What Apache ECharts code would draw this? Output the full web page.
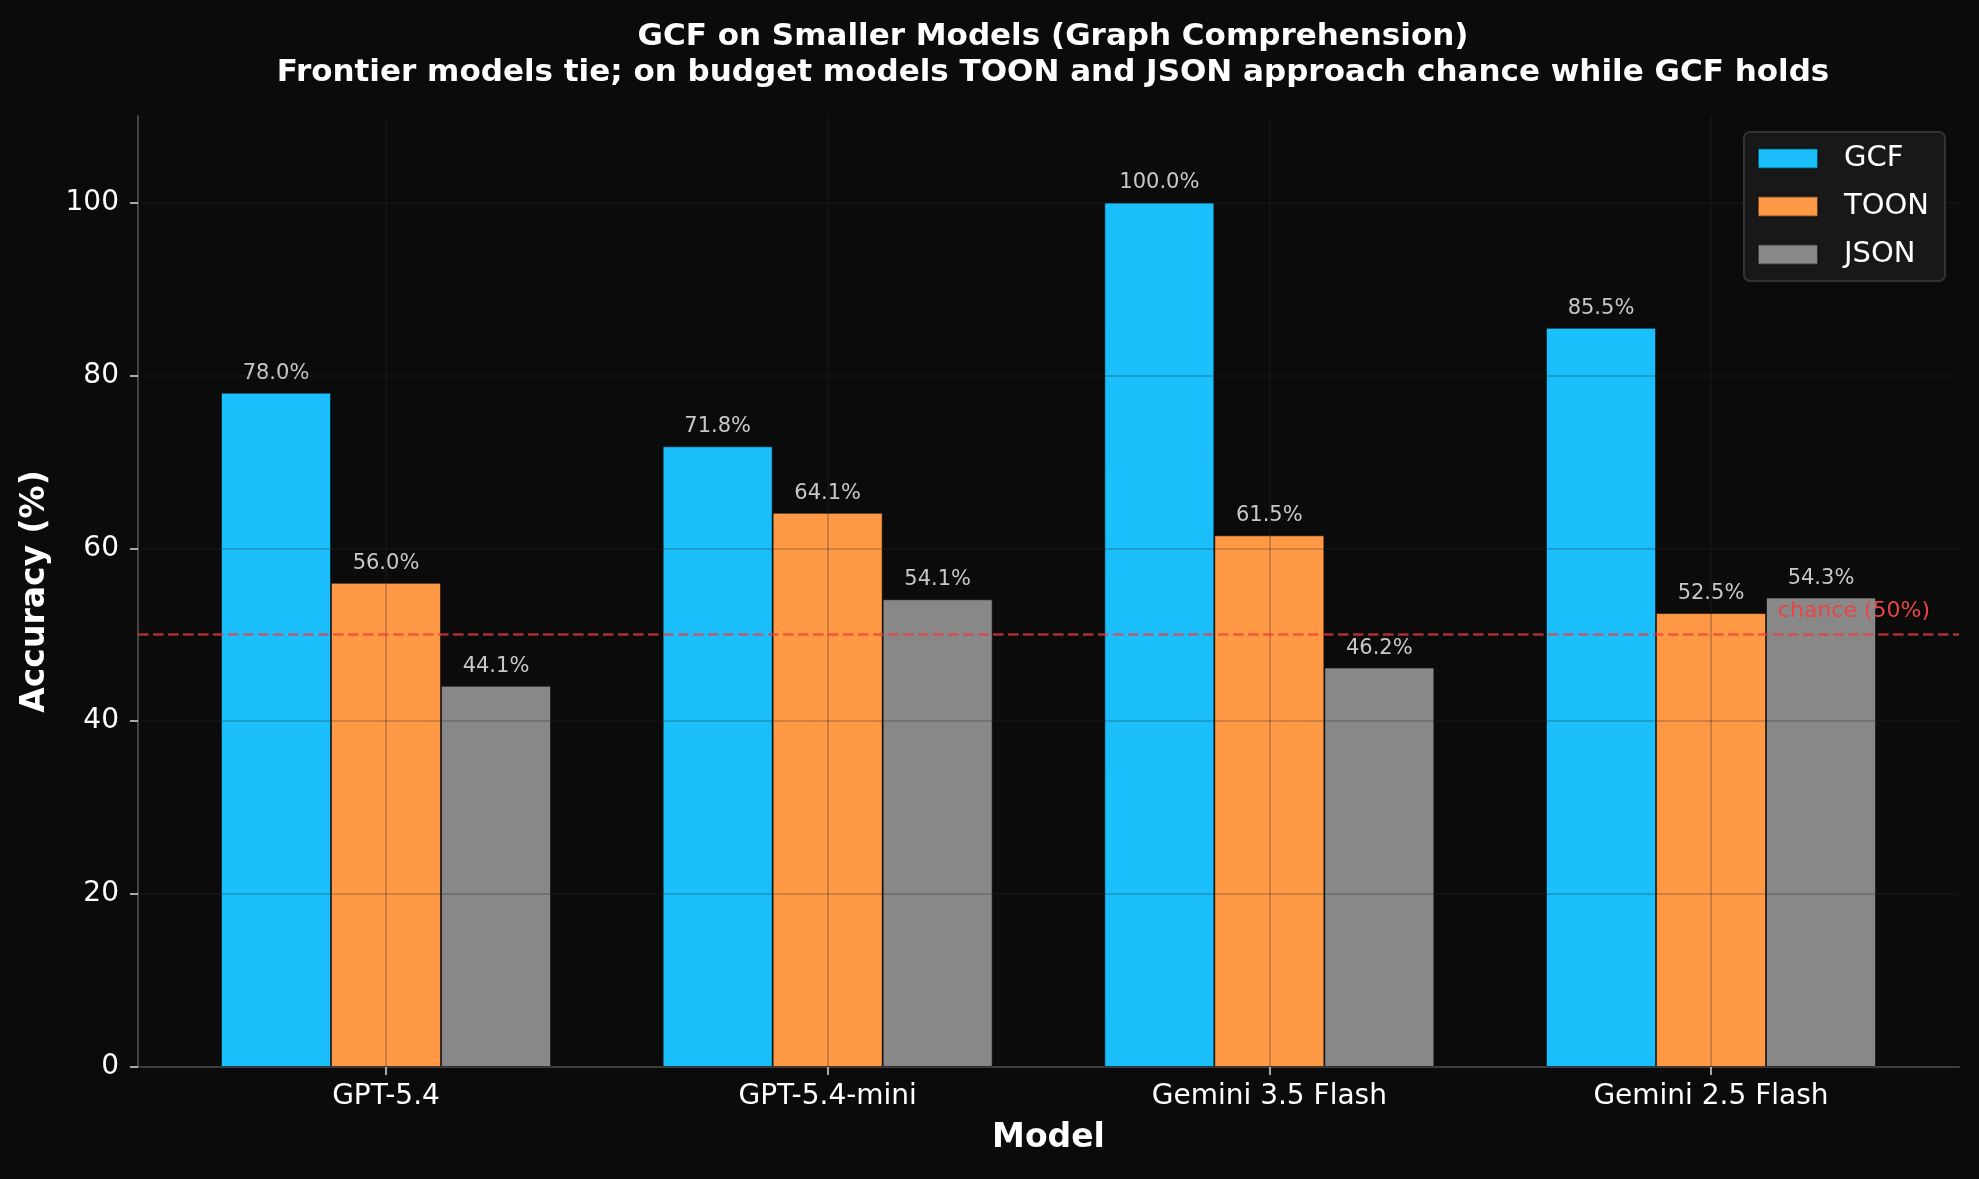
<!DOCTYPE html>
<html>
<head>
<meta charset="utf-8">
<script src="https://cdn.jsdelivr.net/npm/echarts@6/dist/echarts.min.js"></script>
<style>
  html, body { margin: 0; padding: 0; background: #0b0b0b; }
  #chart { width: 1979px; height: 1179px; }
</style>
</head>
<body>
<div id="chart"></div>
<script>
const models = ['GPT-5.4', 'GPT-5.4-mini', 'Gemini 3.5 Flash', 'Gemini 2.5 Flash'];
const gcf = [78.0, 71.8, 100.0, 85.5];
const toon = [56.0, 64.1, 61.5, 52.5];
const json = [44.1, 54.1, 46.2, 54.3];
const yTicks = [0, 20, 40, 60, 80, 100];
const chance = 50;

const font = 'DejaVu Sans';
const gridColor = 'rgba(40,40,40,0.3)';

function barSeries(name, data, color) {
  return {
    name: name,
    type: 'bar',
    xAxisIndex: 1,
    yAxisIndex: 1,
    data: data,
    barWidth: 110,
    barGap: '0%',
    clip: false,
    itemStyle: { color: color, borderColor: 'rgba(10,10,10,0.55)', borderWidth: 1 },
    label: {
      show: true,
      position: 'top',
      distance: 9,
      color: '#c8c8c8',
      fontFamily: font,
      fontSize: 21,
      formatter: p => p.value.toFixed(1) + '%'
    }
  };
}

const chart = echarts.init(document.getElementById('chart'));
chart.setOption({
  backgroundColor: '#0b0b0b',
  animation: false,
  title: {
    text: 'GCF on Smaller Models (Graph Comprehension)\nFrontier models tie; on budget models TOON and JSON approach chance while GCF holds',
    left: 1048,
    top: 14,
    textAlign: 'center',
    textStyle: { color: '#ffffff', fontFamily: font, fontWeight: 'bold', fontSize: 31, lineHeight: 36 }
  },
  legend: {
    orient: 'vertical',
    right: 34,
    top: 132,
    padding: [12, 16, 12, 13],
    icon: 'rect',
    itemWidth: 60,
    itemHeight: 20,
    itemGap: 19,
    backgroundColor: '#181818',
    borderColor: '#333333',
    borderWidth: 2,
    borderRadius: 6,
    textStyle: { color: '#ffffff', fontFamily: font, fontSize: 29, padding: [0, 0, 0, 21] },
    data: ['GCF', 'TOON', 'JSON']
  },
  grid: [
    { left: 138, right: 20, top: 116, bottom: 112 },
    { left: 386, right: 268, top: 116, bottom: 112 }
  ],
  xAxis: [
    {
      type: 'value', gridIndex: 0, min: 0, max: 1,
      axisLine: { show: true, lineStyle: { color: '#444444', width: 2 } },
      axisTick: { show: false }, axisLabel: { show: false }, splitLine: { show: false }
    },
    {
      type: 'category', gridIndex: 1, data: models, boundaryGap: false, z: 3,
      name: 'Model', nameLocation: 'middle', nameGap: 55,
      nameTextStyle: { color: '#ffffff', fontFamily: font, fontWeight: 'bold', fontSize: 33 },
      axisLine: { show: false },
      axisTick: { show: true, length: 8, lineStyle: { color: '#dddddd', width: 1.5 } },
      axisLabel: { color: '#ffffff', fontFamily: font, fontSize: 28, margin: 16 },
      splitLine: { show: true, lineStyle: { color: gridColor, width: 1.7 } }
    }
  ],
  yAxis: [
    {
      type: 'value', gridIndex: 0, min: 0, max: 110, z: 3,
      name: 'Accuracy (%)', nameLocation: 'middle', nameGap: 86,
      nameTextStyle: { color: '#ffffff', fontFamily: font, fontWeight: 'bold', fontSize: 33 },
      axisLine: { show: true, lineStyle: { color: '#444444', width: 2 } },
      axisTick: { show: true, length: 8, customValues: yTicks, lineStyle: { color: '#dddddd', width: 1.5 } },
      axisLabel: { color: '#ffffff', fontFamily: font, fontSize: 28, margin: 19, customValues: yTicks },
      splitLine: { show: true, lineStyle: { color: gridColor, width: 1.7 } }
    },
    {
      type: 'value', gridIndex: 1, min: 0, max: 110, show: false,
      splitLine: { show: false }
    }
  ],
  series: [
    barSeries('GCF', gcf, '#1abffb'),
    barSeries('TOON', toon, '#ff9945'),
    barSeries('JSON', json, '#888888'),
    {
      name: 'chance',
      type: 'line',
      xAxisIndex: 0,
      yAxisIndex: 0,
      data: [],
      z: 4,
      markLine: {
        silent: true,
        symbol: 'none',
        z: 4,
        lineStyle: { color: 'rgba(235,60,60,0.72)', width: 2.5, type: [10.5, 4.5] },
        label: {
          show: true,
          position: 'insideEndTop',
          formatter: 'chance (50%)',
          color: '#e84545',
          fontFamily: font,
          fontSize: 22,
          distance: [29, 12]
        },
        data: [{ yAxis: chance }]
      }
    }
  ]
});
</script>
</body>
</html>
